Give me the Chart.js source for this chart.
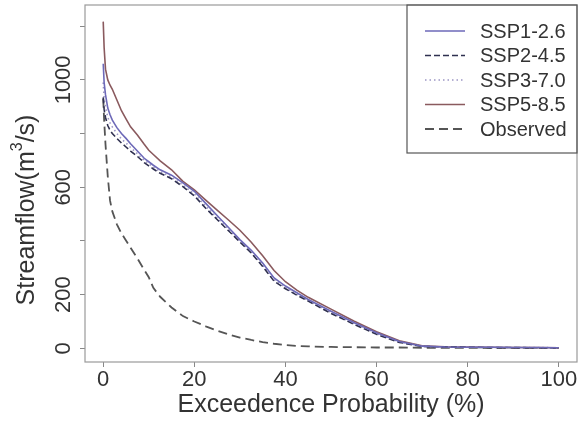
<!DOCTYPE html>
<html lang="en">
<head>
<meta charset="UTF-8">
<title>Flow duration curves</title>
<style>
  html, body { margin: 0; padding: 0; background: #fff; }
  #wrap { width: 582px; height: 426px; }
</style>
<script src="https://cdn.jsdelivr.net/npm/chart.js"></script>
</head>
<body>
<div id="wrap"><canvas id="fdc" width="582" height="426"></canvas></div>
<script>
// exceedance probability (%) shared by every curve
const exceedance = [0, 0.2, 0.5, 1, 1.5, 2, 3, 4, 5, 6, 7.5, 9, 10, 11, 12.5, 15, 17.5, 20, 22.5, 25,
  27.5, 30, 32.5, 35, 37.5, 40, 42.5, 45, 50, 55, 60, 65, 70, 75, 80, 85, 90, 95, 100];

// streamflow (m3/s)
const ssp126 = [1060, 990, 945, 895, 870, 850, 822, 800, 782, 762, 735, 708, 695, 682, 665, 645, 616, 585, 540, 495,
  450, 405, 365, 318, 262, 232, 207, 182, 138, 96, 58, 25, 8, 5, 4, 4, 3, 3, 2];
const ssp245 = [935, 890, 860, 830, 812, 800, 782, 765, 750, 735, 715, 692, 680, 668, 652, 632, 602, 568, 522, 480,
  438, 396, 355, 305, 250, 222, 198, 176, 130, 90, 52, 22, 7, 5, 4, 3, 3, 2, 2];
const ssp370 = [990, 930, 900, 860, 840, 825, 800, 780, 765, 748, 725, 700, 688, 675, 658, 638, 608, 575, 530, 486,
  444, 400, 360, 310, 256, 226, 202, 178, 134, 93, 55, 24, 8, 5, 4, 4, 3, 3, 2];
const ssp585 = [1217, 1120, 1040, 1000, 980, 965, 925, 885, 855, 825, 795, 760, 738, 722, 698, 665, 622, 590, 552, 515,
  478, 440, 395, 345, 290, 248, 217, 190, 146, 102, 62, 28, 9, 6, 5, 4, 3, 3, 2];
const observed = [930, 850, 760, 640, 550, 510, 462, 428, 402, 375, 335, 292, 265, 225, 192, 152, 120, 100, 82, 66,
  52, 40, 31, 23, 17, 12, 9, 7, 5, 4, 3, 3, 2, 2, 2, 1, 1, 1, 1];

const seriesNames = ['SSP1-2.6', 'SSP2-4.5', 'SSP3-7.0', 'SSP5-8.5', 'Observed'];
const xTicks = [0, 20, 40, 60, 80, 100];
const yTicks = [0, 200, 400, 600, 800, 1000, 1200];
const yTickLabels = ['0', '200', '', '600', '', '1000', ''];

const FONT = "'Liberation Sans', Arial, sans-serif";
const INK = '#333';

function pts(vals) {
  return vals.map((v, i) => ({ x: exceedance[i], y: v }));
}

const styles = [
  { color: '#6d69b8', dash: [], width: 1.6 },
  { color: '#2f3050', dash: [6, 3], width: 1.6 },
  { color: '#9c96c4', dash: [1.5, 3], width: 1.6 },
  { color: '#8a5a5e', dash: [], width: 1.6 },
  { color: '#555555', dash: [9, 5], width: 1.8 }
];
const allSeries = [ssp126, ssp245, ssp370, ssp585, observed];

// box round the plot, rotated y labels and the legend
const decor = {
  id: 'decor',
  afterDraw(chart) {
    const ctx = chart.ctx;
    const a = chart.chartArea;
    const y = chart.scales.y;
    ctx.save();
    ctx.strokeStyle = '#9a9a9a';
    ctx.lineWidth = 1.2;
    ctx.strokeRect(a.left, a.top, a.right - a.left, a.bottom - a.top);

    ctx.fillStyle = INK;
    ctx.font = '22px ' + FONT;
    ctx.textAlign = 'center';
    ctx.textBaseline = 'middle';
    yTicks.forEach((v, i) => {
      if (!yTickLabels[i]) return;
      ctx.save();
      ctx.translate(64, y.getPixelForValue(v));
      ctx.rotate(-Math.PI / 2);
      ctx.fillText(yTickLabels[i], 0, 0);
      ctx.restore();
    });

    // y title with superscript
    const big = '25px ' + FONT, small = '16px ' + FONT;
    const p1 = 'Streamflow(m', p2 = '3', p3 = '/s)';
    ctx.font = big; const w1 = ctx.measureText(p1).width, w3 = ctx.measureText(p3).width;
    ctx.font = small; const w2 = ctx.measureText(p2).width;
    ctx.save();
    ctx.translate(27, 210);
    ctx.rotate(-Math.PI / 2);
    ctx.textAlign = 'left';
    let sx = -(w1 + w2 + w3) / 2;
    ctx.font = big; ctx.fillText(p1, sx, 0); sx += w1;
    ctx.font = small; ctx.fillText(p2, sx, -9); sx += w2;
    ctx.font = big; ctx.fillText(p3, sx, 0);
    ctx.restore();

    // legend
    const lx = a.right - 170, ly = a.top;
    ctx.strokeStyle = '#555';
    ctx.lineWidth = 1.2;
    ctx.strokeRect(lx, ly, 170, 148);
    ctx.font = '20px ' + FONT;
    ctx.textAlign = 'left';
    chart.data.datasets.forEach((ds, i) => {
      const yy = ly + 26 + i * 24.5;
      ctx.strokeStyle = ds.borderColor;
      ctx.lineWidth = ds.borderWidth;
      ctx.setLineDash(ds.borderDash);
      ctx.beginPath();
      ctx.moveTo(lx + 18, yy);
      ctx.lineTo(lx + 58, yy);
      ctx.stroke();
      ctx.setLineDash([]);
      ctx.fillStyle = INK;
      ctx.fillText(ds.label, lx + 73, yy + 1);
    });
    ctx.restore();
  }
};

new Chart(document.getElementById('fdc'), {
  type: 'line',
  data: {
    datasets: allSeries.map((vals, i) => ({
      label: seriesNames[i],
      data: pts(vals),
      borderColor: styles[i].color,
      borderDash: styles[i].dash,
      borderWidth: styles[i].width,
      pointRadius: 0,
      tension: 0,
      fill: false
    }))
  },
  options: {
    responsive: false,
    devicePixelRatio: 1,
    animation: false,
    layout: { padding: { top: 5, right: 5, left: 0, bottom: 0 } },
    plugins: { legend: { display: false }, tooltip: { enabled: false } },
    scales: {
      x: {
        type: 'linear',
        min: -4,
        max: 104,
        afterBuildTicks: s => { s.ticks = xTicks.map(v => ({ value: v })); },
        afterFit: s => { s.height = 64; },
        grid: { drawOnChartArea: false, tickLength: 5, color: '#888' },
        border: { display: false },
        ticks: { color: INK, font: { family: FONT, size: 22 }, padding: 0, maxRotation: 0 },
        title: {
          display: true,
          text: 'Exceedence Probability (%)',
          color: INK,
          font: { family: FONT, size: 25 },
          padding: { top: 0, bottom: 6 }
        }
      },
      y: {
        type: 'linear',
        min: -51,
        max: 1279,
        afterBuildTicks: s => { s.ticks = yTicks.map(v => ({ value: v })); },
        afterFit: s => { s.width = 85; },
        grid: { drawOnChartArea: false, tickLength: 5, color: '#888' },
        border: { display: false },
        ticks: { display: false }
      }
    }
  },
  plugins: [decor]
});
</script>
</body>
</html>
